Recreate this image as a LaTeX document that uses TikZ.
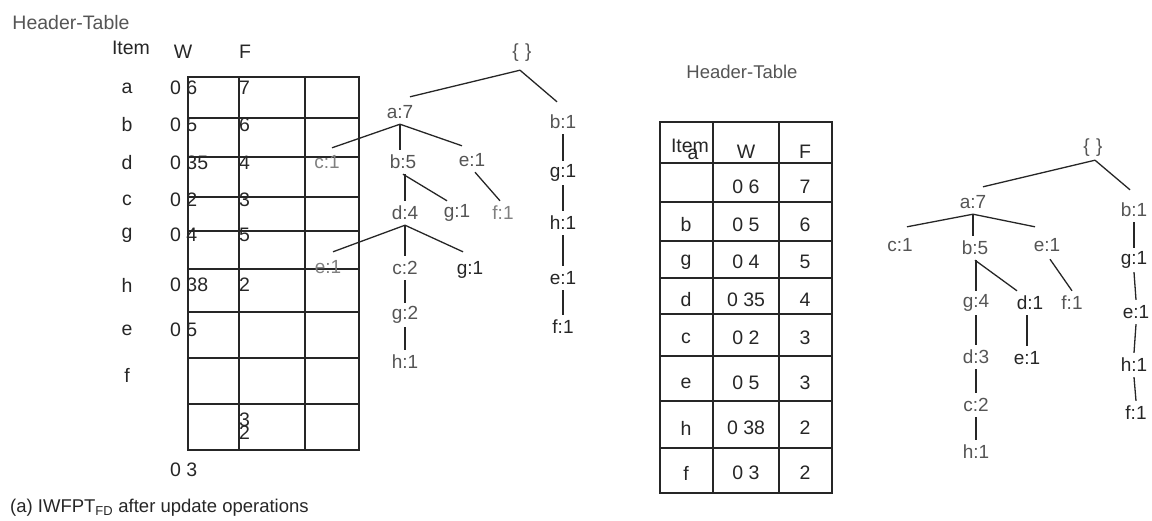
\documentclass[tikz,border=0pt]{standalone}
\usepackage{fontspec}
\setmainfont{Liberation Sans}
\usetikzlibrary{calc}
\definecolor{ink}{HTML}{262626}
\definecolor{lbl}{HTML}{555555}
\definecolor{lgt}{HTML}{808080}
\definecolor{dk}{HTML}{262626}
\begin{document}
\begin{tikzpicture}[x=1pt,y=-1pt,
  txt/.style={font=\fontsize{19.5}{22}\selectfont, text=dk, inner sep=0pt},
  tn/.style={font=\fontsize{19}{21}\selectfont, text=lbl, inner sep=0pt, minimum height=24pt},
  tnd/.style={tn, text=dk},
  tnl/.style={tn, text=lgt},
  edge/.style={draw=ink, line width=1.3pt},
  gridline/.style={draw=ink, line width=2.8pt, line cap=rect}]
\useasboundingbox (0,0) rectangle (1152,520);

% ---------------- left header table ----------------
\foreach \x in {188,239,305,359} \draw[gridline] (\x,77) -- (\x,450);
\foreach \y in {77,118,157,197,231,269,312,358,404,450} \draw[gridline] (188,\y) -- (359,\y);

\node[txt, text=lbl] (lht) at (71,23) {Header-Table};
\node[txt] (litem) at (131,48) {Item};
\node[txt] (lW) at (183,52) {W};
\node[txt] (lF) at (245,52) {F};
\foreach \it/\y [count=\i] in {a/88,b/125,d/163,c/200,g/235,h/285,e/330,f/375}
  \node[txt] (li\i) at (127,\y) {\it};
\foreach \w/\y [count=\i] in {{0 6}/88,{0 5}/125,{0 35}/163,{0 2}/200,{0 4}/235,{0 38}/285,{0 5}/330}
  \node[txt, anchor=west] (lw\i) at (170,\y) {\w};
\foreach \f/\y [count=\i] in {7/88,6/125,4/163,3/200,5/235,2/285}
  \node[txt, anchor=west] (lf\i) at (239,\y) {\f};
\node[txt, anchor=west] (lf7) at (239,420) {3};
\node[txt, anchor=west] (lf8) at (239,433) {2};
\node[txt, anchor=west] (lw8) at (170,470) {0 3};

\node[txt, anchor=west, font=\fontsize{18.5}{21}\selectfont] (cap) at (10,508) {(a) IWFPT\textsubscript{FD} after update operations};

% ---------------- left tree ----------------
\node[tn] (L0) at (522,53) {\{\,\,\}};
\node[tn] (La7) at (400,112) {a:7};
\node[tn] (Lb1) at (563,122) {b:1};
\node[tnl] (Lc1) at (327,162) {c:1};
\node[tn] (Lb5) at (403,162) {b:5};
\node[tn] (Le1) at (472,160) {e:1};
\node[tn] (Ld4) at (405,213) {d:4};
\node[tn] (Lg1) at (457,213) {g:1};
\node[tnl] (Lf1) at (503,213) {f:1};
\node[tnl] (Le1b) at (328,267) {e:1};
\node[tn] (Lc2) at (405,268) {c:2};
\node[tnd] (Lg1b) at (470,270) {g:1};
\node[tn] (Lg2) at (405,315) {g:2};
\node[tn] (Lh1) at (405,362) {h:1};
\node[tnd] (Lg1c) at (563,173) {g:1};
\node[tnd] (Lh1c) at (563,223) {h:1};
\node[tnd] (Le1c) at (563,278) {e:1};
\node[tnd] (Lf1c) at (563,327) {f:1};

\draw[edge] ($(L0.south)+(-2,5)$) -- ($(La7.north)+(10,-3)$);
\draw[edge] ($(L0.south)+(-2,5)$) -- ($(Lb1.north)+(-6,-8)$);
\draw[edge] (La7.south) -- ($(Lc1.north)+(5,-2)$);
\draw[edge] (La7.south) -- (La7.south |- Lb5.north);
\draw[edge] (La7.south) -- ($(Le1.north)+(-10,-2)$);
\draw[edge] (Lb5.south) -- (Lb5.south -| Ld4.north) -- (Ld4.north);
\draw[edge] (Lb5.south) -- ($(Lg1.north)+(-10,0)$);
\draw[edge] ($(Le1.south)+(3,0)$) -- ($(Lf1.north)+(-3,0)$);
\draw[edge] (Ld4.south) -- ($(Le1b.north)+(5,-3)$);
\draw[edge] (Ld4.south) -- (Lc2.north);
\draw[edge] (Ld4.south) -- ($(Lg1b.north)+(-7,-6)$);
\draw[edge] (Lc2.south) -- (Lg2.north);
\draw[edge] (Lg2.south) -- (Lh1.north);
\draw[edge] (Lb1.south) -- (Lg1c.north);
\draw[edge] (Lg1c.south) -- (Lh1c.north);
\draw[edge] (Lh1c.south) -- (Le1c.north);
\draw[edge] (Le1c.south) -- (Lf1c.north);

% ---------------- right header table ----------------
\node[txt, text=lbl, font=\fontsize{18.5}{21}\selectfont] (rht) at (742,72) {Header-Table};
\foreach \x in {660,713,779,832} \draw[gridline] (\x,122) -- (\x,493);
\foreach \y in {122,163,202,241,278,314,356,401,448,493} \draw[gridline] (660,\y) -- (832,\y);
\node[txt] (ritem) at (690,146) {Item};
\node[txt] (ra) at (693,154) {a};
\node[txt] (rW) at (746,152) {W};
\node[txt] (rF) at (805,152) {F};
\foreach \it/\w/\f/\y [count=\i] in {{}/{0 6}/7/187, b/{0 5}/6/225, g/{0 4}/5/262, d/{0 35}/4/300, c/{0 2}/3/338, e/{0 5}/3/383, h/{0 38}/2/428, f/{0 3}/2/473}{
  \node[txt] (ri\i) at (686,\y) {\it};
  \node[txt] (rw\i) at (746,\y) {\w};
  \node[txt] (rf\i) at (805,\y) {\f};
}

% ---------------- right tree ----------------
\node[tn] (R0) at (1093,148) {\{\,\,\}};
\node[tn] (Ra7) at (973,202) {a:7};
\node[tn] (Rb1) at (1134,210) {b:1};
\node[tn] (Rc1) at (900,245) {c:1};
\node[tn] (Rb5) at (975,248) {b:5};
\node[tn] (Re1) at (1047,245) {e:1};
\node[tn] (Rg4) at (976,303) {g:4};
\node[tnd] (Rd1) at (1030,303) {d:1};
\node[tn] (Rf1) at (1072,303) {f:1};
\node[tn] (Rd3) at (976,357) {d:3};
\node[tnd] (Re1b) at (1027,358) {e:1};
\node[tn] (Rc2) at (976,405) {c:2};
\node[tn] (Rh1) at (976,452) {h:1};
\node[tnd] (Rg1c) at (1134,260) {g:1};
\node[tnd] (Re1c) at (1136,312) {e:1};
\node[tnd] (Rh1c) at (1134,365) {h:1};
\node[tnd] (Rf1c) at (1136,413) {f:1};

\draw[edge] ($(R0.south)+(2,0)$) -- ($(Ra7.north)+(10,-3)$);
\draw[edge] ($(R0.south)+(2,0)$) -- ($(Rb1.north)+(-4,-8)$);
\draw[edge] (Ra7.south) -- ($(Rc1.north)+(7,-6)$);
\draw[edge] (Ra7.south) -- (Ra7.south |- Rb5.north);
\draw[edge] (Ra7.south) -- ($(Re1.north)+(-12,-6)$);
\draw[edge] (Rb5.south) -- (Rb5.south -| Rg4.north) -- (Rg4.north);
\draw[edge] (Rb5.south) -- ($(Rd1.north)+(-13,0)$);
\draw[edge] ($(Re1.south)+(3,2)$) -- (Rf1.north);
\draw[edge] (Rg4.south) -- (Rd3.north);
\draw[edge] (Rd3.south) -- (Rc2.north);
\draw[edge] (Rc2.south) -- (Rh1.north);
\draw[edge] (Rd1.south -| Re1b.north) -- (Re1b.north);
\draw[edge] (Rb1.south) -- (Rg1c.north);
\draw[edge] (Rg1c.south) -- (Re1c.north);
\draw[edge] (Re1c.south) -- (Rh1c.north);
\draw[edge] (Rh1c.south) -- (Rf1c.north);
\end{tikzpicture}
\end{document}
